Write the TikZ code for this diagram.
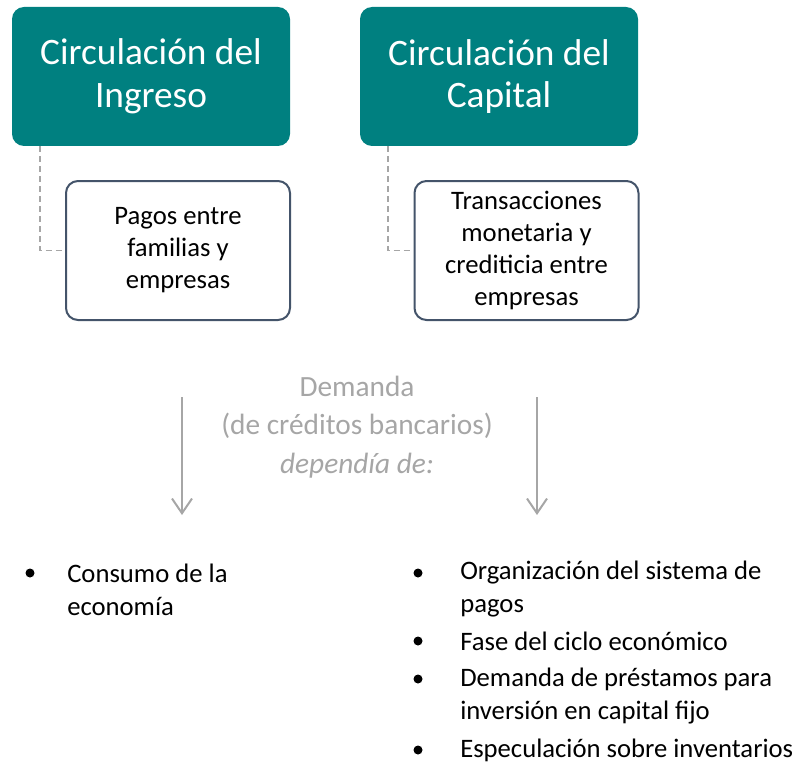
\documentclass[tikz,border=0pt]{standalone}
\usepackage{fontspec}
\setmainfont{Carlito}
\usetikzlibrary{arrows.meta}
\definecolor{tealbox}{RGB}{0,128,128}
\definecolor{slate}{RGB}{68,84,106}
\definecolor{lgray}{RGB}{166,166,166}
\tikzset{
  titlebox/.style={fill=tealbox, text=white, rounded corners=9pt, minimum width=208.5pt,
    minimum height=104.25pt, align=center, font=\fontsize{28}{32}\selectfont},
  subbox/.style={draw=slate, line width=1.5pt, fill=white, rounded corners=9pt, minimum width=168pt,
    minimum height=104.25pt, align=center, font=\fontsize{20}{24}\selectfont},
  link/.style={draw=lgray, line width=1.2pt, dash pattern=on 4.5pt off 3pt},
  flow/.style={draw=lgray, line width=1.5pt, -{Straight Barb[length=11pt,width=15pt]}},
  dot/.style={circle, fill=black, inner sep=0pt, minimum size=6.75pt},
  item/.style={anchor=west, align=left, inner sep=0pt, font=\fontsize{20}{24.75}\selectfont}
}
\begin{document}
\begin{tikzpicture}[x=0.75pt,y=-0.75pt]
\useasboundingbox (0,0) rectangle (795,763);

\node[titlebox] (ingreso) at (151,76.5) {Circulación del\\Ingreso};
\node[titlebox] (capital) at (499,76.5) {Circulación del\\Capital};
\node[subbox] (pagos) at (178,250.5) {Pagos entre\\familias y\\empresas};
\node[subbox] (trans) at (526.5,250.5) {Transacciones\\monetaria y\\crediticia entre\\empresas};

\draw[link] ([xshift=21pt]ingreso.south west) |- (pagos.west);
\draw[link] ([xshift=21pt]capital.south west) |- (trans.west);

\node[align=center, text=lgray, font=\fontsize{22}{29}\selectfont] (demanda) at (357,427)
  {Demanda\\(de créditos bancarios)\\\textit{dependía de:}};

\coordinate (izq1) at (182,397);
\coordinate (izq2) at (182,515);
\coordinate (der1) at (537,397);
\coordinate (der2) at (537,515);
\draw[flow] (izq1) -- (izq2);
\draw[flow] (der1) -- (der2);

\node[dot] (p1) at (30,573) {};
\node[item] (t1) at (67,589.5) {Consumo de la\\economía};
\node[dot] (p2) at (418,573) {};
\node[item] (t2) at (460,589.5) {Organización del sistema de\\pagos};
\node[dot] (p3) at (418,641) {};
\node[item] (t3) at (460,641) {Fase del ciclo económico};
\node[dot] (p4) at (418,679) {};
\node[item] (t4) at (460,696) {Demanda de préstamos para\\inversión en capital fijo};
\node[dot] (p5) at (418,750) {};
\node[item] (t5) at (460,750) {Especulación sobre inventarios};
\end{tikzpicture}
\end{document}
